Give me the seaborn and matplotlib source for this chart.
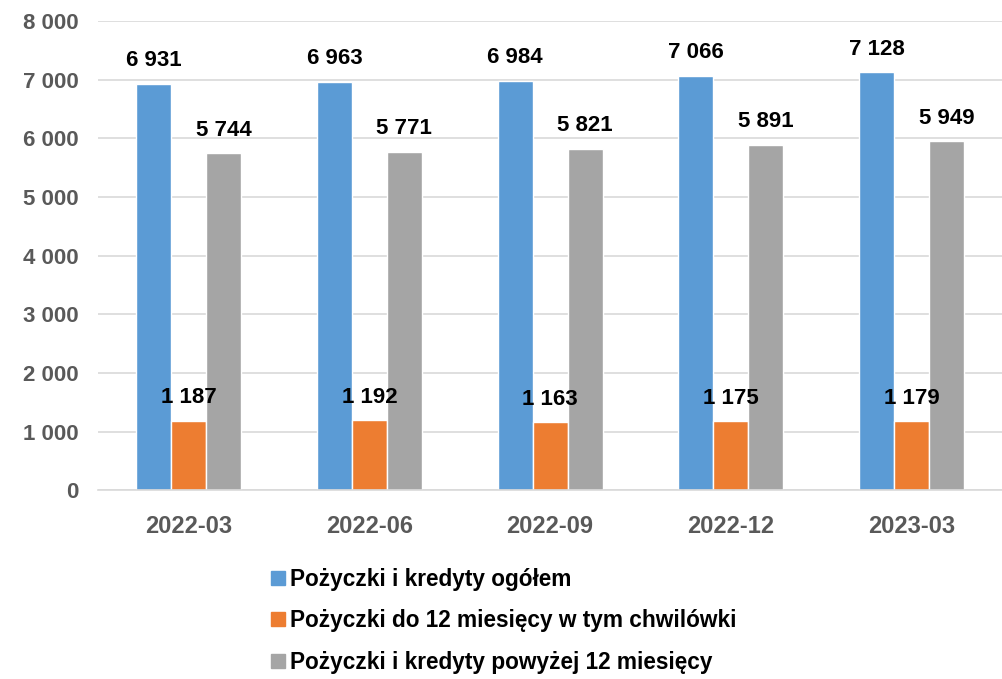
import numpy as np
import pandas as pd
import matplotlib
matplotlib.use("Agg")
import matplotlib.pyplot as plt
import matplotlib.ticker as mticker
import seaborn as sns

# data
periods = ["2022-03", "2022-06", "2022-09", "2022-12", "2023-03"]
series = [
    "Pożyczki i kredyty ogółem",
    "Pożyczki do 12 miesięcy w tym chwilówki",
    "Pożyczki i kredyty powyżej 12 miesięcy",
]
total = [6931, 6963, 6984, 7066, 7128]
short_term = [1187, 1192, 1163, 1175, 1179]
long_term = [5744, 5771, 5821, 5891, 5949]
colors = ["#5B9BD5", "#ED7D31", "#A5A5A5"]

df = pd.DataFrame({
    "period": periods * 3,
    "series": [series[0]] * 5 + [series[1]] * 5 + [series[2]] * 5,
    "value": total + short_term + long_term,
})

sns.set_theme(style="white")
plt.rcParams["font.family"] = ["Liberation Sans", "DejaVu Sans"]

fig = plt.figure(figsize=(10.02, 6.79), dpi=100)
ax = fig.add_axes([0.098, 0.278, 0.902, 0.691])

sns.barplot(data=df, x="period", y="value", hue="series", palette=colors,
            width=0.58, saturation=1, ax=ax, legend=False)

ax.set_ylim(0, 8000)
ax.set_xlim(-0.5, 4.5)
ax.yaxis.set_major_locator(mticker.MultipleLocator(1000))
ax.yaxis.set_major_formatter(
    mticker.FuncFormatter(lambda v, p: f"{int(v):,}".replace(",", " ")))
ax.grid(axis="y", color="#D9D9D9", linewidth=1.2)
ax.set_axisbelow(True)
for s in ["top", "right", "left"]:
    ax.spines[s].set_visible(False)
ax.spines["bottom"].set_color("#D9D9D9")
ax.spines["bottom"].set_linewidth(1.2)
ax.set_xlabel("")
ax.set_ylabel("")
ax.tick_params(axis="y", length=0, labelsize=16, labelcolor="#595959", pad=14)
ax.tick_params(axis="x", length=0, labelsize=17, labelcolor="#595959", pad=18)
for t in ax.get_xticklabels() + ax.get_yticklabels():
    t.set_fontweight("bold")

for cont in ax.containers:
    labels = [f"{int(v):,}".replace(",", " ") for v in cont.datavalues]
    ax.bar_label(cont, labels=labels, padding=9, fontsize=16,
                 fontweight="bold", color="black")

handles = [plt.Line2D([], [], marker="s", linestyle="", markersize=10,
                      color=c) for c in colors]
fig.legend(handles, series, loc="upper left", bbox_to_anchor=(0.267, 0.164),
           frameon=False, prop={"size": 16.3, "weight": "bold"},
           labelcolor="black",
           handlelength=0.9, handletextpad=0.1, labelspacing=0.82,
           borderaxespad=0, borderpad=0)

fig.savefig("out.png", dpi=100)
